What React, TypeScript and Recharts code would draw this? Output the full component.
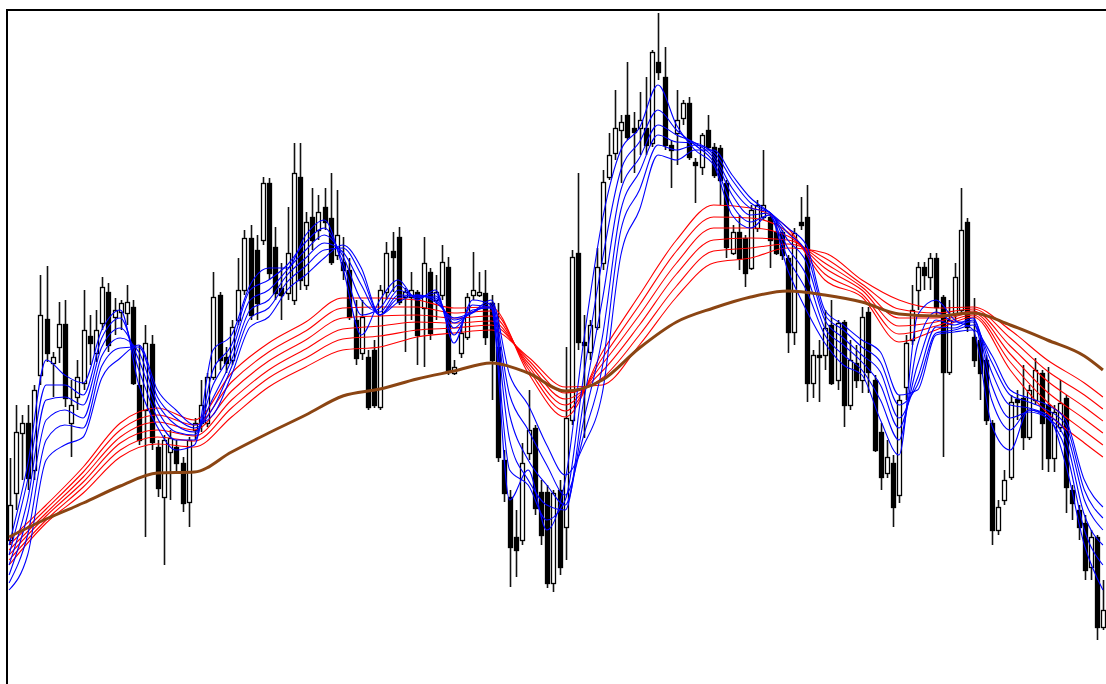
import React from 'react';
import { ComposedChart, Bar, Line, XAxis, YAxis } from 'recharts';

// candles left to right
const opens = [160,207,267,277,230,325,381,337,353,376,277,303,317,364,347,377,408,383,388,387,393,315,290,356,253,203,248,253,237,198,270,277,277,323,405,343,340,380,410,462,450,460,517,453,412,407,400,523,415,483,470,493,482,445,438,430,380,347,343,350,293,408,449,463,403,403,408,392,428,400,405,433,327,347,363,405,405,407,397,353,240,203,163,160,247,272,208,208,117,210,173,280,447,358,348,373,437,523,547,570,585,572,572,572,557,638,623,555,567,582,597,538,533,570,553,552,517,447,468,462,432,472,483,483,468,468,442,368,478,483,317,345,345,375,320,378,295,337,320,388,320,268,227,237,205,313,360,410,433,423,442,403,328,387,390,478,363,360,340,277,170,200,223,301,302,263,300,327,295,242,273,302,210,190,177,133,163,73];
const highs = [242,295,285,295,315,425,434,348,398,400,320,340,410,385,390,423,417,402,400,415,400,355,375,365,260,265,270,260,243,263,282,320,327,428,408,353,380,442,470,475,465,523,522,473,437,493,557,557,488,512,505,512,527,510,463,442,400,400,350,360,415,458,468,473,412,428,410,463,432,425,455,443,340,375,407,448,428,430,405,397,250,210,190,257,310,275,220,215,210,220,353,450,527,385,380,452,530,567,610,585,638,588,608,623,650,687,653,560,610,600,603,542,567,585,557,555,520,475,485,465,495,500,550,487,480,470,445,472,503,515,350,360,390,400,380,380,360,355,393,393,325,277,260,245,305,365,415,438,438,447,447,405,400,437,512,482,402,365,345,280,200,230,305,310,335,315,342,330,333,295,320,305,215,195,185,170,165,120];
const lows = [155,190,220,210,220,315,338,303,337,293,243,290,310,335,338,370,348,365,370,375,315,255,163,250,203,135,200,228,188,173,260,268,273,320,330,327,335,375,405,380,380,455,420,400,380,400,395,410,410,450,460,470,435,440,420,380,335,340,290,292,290,400,408,395,348,380,335,333,360,380,400,325,325,342,360,400,403,355,300,238,198,113,123,155,240,185,155,112,108,125,140,275,350,262,340,370,430,520,540,517,560,527,545,545,553,620,550,512,535,575,540,497,525,550,522,495,442,445,430,413,430,468,480,432,445,440,347,355,470,298,302,298,330,315,310,273,290,312,307,307,248,210,222,173,197,300,355,390,410,410,385,243,325,380,385,368,333,300,275,155,165,195,220,280,250,260,295,230,228,228,268,187,180,160,120,120,60,70];
const closes = [195,268,277,222,310,385,347,343,376,302,295,323,370,357,370,413,355,390,397,398,317,260,357,258,212,260,262,237,197,260,277,295,323,403,340,337,373,410,462,385,397,517,427,407,405,447,527,420,478,460,488,478,438,465,430,383,342,383,293,295,410,447,443,398,408,410,365,437,367,408,438,328,333,367,403,410,408,363,340,243,207,153,150,237,270,192,165,117,207,133,282,443,358,355,375,433,518,545,572,578,563,568,580,555,648,628,555,550,580,597,543,535,565,553,525,520,453,468,442,427,490,495,495,460,447,445,368,467,475,317,345,343,372,317,377,295,340,320,383,328,250,223,243,193,300,357,390,433,425,442,393,328,380,423,470,373,340,327,280,170,193,220,298,298,263,310,330,277,242,288,297,213,197,173,130,163,73,90];

// candle index where each long-average reading was taken
const slowAt = [0,6,12,18,24,30,36,42,48,54,60,66,72,78,84,90,96,102,108,114,120,126,132,138,144,150,156,162,168,174,177];

const brown = [163,181,197,214,227,228,248,267,285,304,311,321,329,337,327,309,320,352,378,392,403,409,405,398,386,384,387,375,360,344,330];

const red1 = [160,195,233,277,292,280,327,357,378,402,402,400,392,393,327,283,348,405,460,495,492,472,420,403,358,370,383,330,287,257,243];
const red2 = [155,191,228,270,285,275,318,348,369,392,393,393,387,389,331,289,342,395,449,483,482,468,426,406,366,374,385,338,298,269,255];
const red3 = [150,187,223,263,278,270,309,339,360,382,384,385,382,384,334,295,336,385,437,472,472,464,432,410,374,378,387,346,308,281,267];
const red4 = [145,184,218,257,270,264,300,330,351,371,374,378,377,379,337,301,329,375,426,460,462,460,437,413,382,382,389,354,319,293,279];
const red5 = [140,180,213,250,263,259,292,322,342,361,364,370,372,375,340,307,322,365,414,449,452,456,442,416,391,387,391,362,329,305,291];
const red6 = [135,177,207,243,256,253,283,313,333,350,353,363,367,370,343,313,315,355,403,437,442,452,447,420,400,392,393,370,340,317,303];

// candle index where each short-average reading was taken
const fastAt = [0,3,6,9,12,15,18,21,24,27,30,33,36,39,42,45,48,51,54,57,60,63,66,69,72,75,78,81,84,87,90,93,96,99,102,105,108,111,114,117,120,123,126,129,132,135,138,141,144,147,150,153,156,159,162,165,168,171,174,177];

const blue1 = [155,235,340,325,317,370,390,315,273,250,255,350,365,415,432,432,465,480,432,365,400,420,400,410,357,400,395,200,230,170,220,360,480,550,572,615,575,550,535,485,472,485,430,390,357,335,325,280,245,385,400,380,370,275,250,290,285,235,155,110];
const blue2 = [145,220,315,315,305,362,382,330,282,260,260,330,355,410,420,435,458,472,438,385,392,415,402,407,365,395,392,230,215,180,200,325,440,530,558,590,570,555,538,495,478,485,442,410,365,345,330,300,260,355,388,378,378,300,270,290,282,250,170,135];
const blue3 = [135,200,300,303,295,353,372,340,290,268,265,315,348,400,410,430,450,465,444,400,388,410,403,404,372,390,392,260,220,195,190,300,400,510,542,575,565,557,542,505,485,487,452,425,372,355,338,315,272,335,380,375,382,315,282,288,282,260,185,155];
const blue4 = [125,185,280,290,282,344,362,348,297,275,268,302,340,390,400,425,442,457,448,415,385,405,404,402,377,388,394,285,240,215,195,280,363,490,528,565,558,557,545,512,492,488,460,438,380,362,345,328,282,322,373,372,380,328,295,292,285,268,200,170];
const blue5 = [117,165,260,275,272,334,352,353,303,282,272,292,333,382,392,418,434,450,452,425,385,402,405,400,380,387,397,305,270,235,205,265,333,470,510,555,550,555,548,520,497,488,467,448,385,370,353,338,295,315,367,370,375,338,305,298,290,275,210,182];
const blue6 = [110,145,240,255,263,322,342,355,310,290,275,285,325,373,383,410,425,442,455,432,385,398,405,398,382,388,400,325,295,255,225,255,307,445,490,545,540,550,550,525,502,488,472,455,390,375,360,348,305,310,365,368,370,345,310,302,295,280,220,193];

const reds = [red1, red2, red3, red4, red5, red6];
const blues = [blue1, blue2, blue3, blue4, blue5, blue6];

const rows: any[] = opens.map((o, i) => ({
  i,
  o,
  h: highs[i],
  l: lows[i],
  c: closes[i],
  range: [lows[i], highs[i]],
}));

slowAt.forEach((idx, k) => {
  rows[idx].br = brown[k];
  reds.forEach((s, n) => { rows[idx]['r' + n] = s[k]; });
});
fastAt.forEach((idx, k) => {
  blues.forEach((s, n) => { rows[idx]['b' + n] = s[k]; });
});

const Candle = (props: any) => {
  const { x, y, width, height, payload } = props;
  if (!payload || height == null) return null;
  const { o, h, l, c } = payload;
  const top = Math.min(y, y + height);
  const span = Math.abs(height);
  const k = span / (h - l || 1);
  const cx = Math.round(x + width / 2) + 0.5;
  const yo = top + (h - o) * k;
  const yc = top + (h - c) * k;
  const bodyTop = Math.round(Math.min(yo, yc)) + 0.5;
  const bodyH = Math.max(1, Math.round(Math.abs(yc - yo)));
  const up = c >= o;
  return (
    <g>
      <line x1={cx} x2={cx} y1={top} y2={top + span} stroke="#111" strokeWidth={1.6} />
      <rect x={cx - 2} y={bodyTop} width={4} height={bodyH} fill={up ? '#fff' : '#000'} stroke="#000" strokeWidth={1.3} />
    </g>
  );
};

export default function App() {
  return (
    <div style={{ position: 'fixed', left: 0, top: 0, width: 1106, height: 684, overflow: 'hidden', background: '#fff' }}>
      <div style={{ position: 'absolute', left: 6, top: 11 }}>
        <ComposedChart width={1100} height={673} data={rows} margin={{ top: 0, right: 0, bottom: 0, left: 0 }}>
          <XAxis dataKey="i" type="category" hide />
          <YAxis type="number" domain={[16, 689]} hide allowDataOverflow />
          <Bar dataKey="range" barSize={5} shape={<Candle />} isAnimationActive={false} />
          {reds.map((_, n) => (
            <Line key={'r' + n} dataKey={'r' + n} type="monotone" stroke="#ff0000" strokeWidth={1.1} dot={false} connectNulls isAnimationActive={false} />
          ))}
          {blues.map((_, n) => (
            <Line key={'b' + n} dataKey={'b' + n} type="monotone" stroke="#0000ff" strokeWidth={1.1} dot={false} connectNulls isAnimationActive={false} />
          ))}
          <Line dataKey="br" type="monotone" stroke="#8b4513" strokeWidth={3} dot={false} connectNulls isAnimationActive={false} />
        </ComposedChart>
      </div>
      <div style={{ position: 'absolute', left: 6, top: 9, width: 1100, height: 675, borderTop: '2px solid #000', borderLeft: '2px solid #000', boxSizing: 'border-box', pointerEvents: 'none' }} />
    </div>
  );
}
